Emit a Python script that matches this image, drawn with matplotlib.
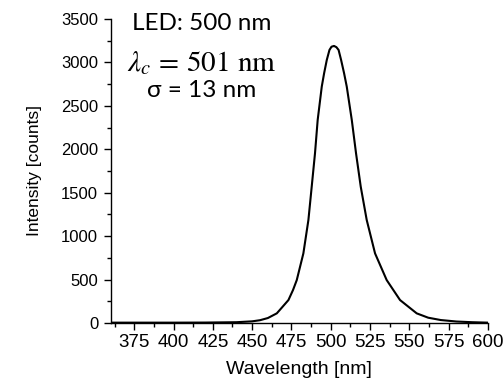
import numpy as np
import matplotlib.pyplot as plt
from matplotlib.ticker import MultipleLocator

# spectrum
wavelength = [360, 380, 400, 420, 440, 450, 455, 460, 465.7, 469, 473.1, 476, 478.4,
              482.6, 485.8, 487.9, 490.0, 491.7, 494.3, 495.8, 497.5, 499.2, 500.5,
              502.1, 503.6, 505.0, 506.6, 508.5, 510.2, 513.4, 516.1, 519.1, 522.9,
              528.2, 535.6, 544.1, 554.7, 562, 570, 580, 590, 600]
intensity = [5, 5, 5, 6, 10, 20, 33, 58, 112, 180, 265, 380, 495,
             802, 1186, 1569, 1954, 2337, 2721, 2875, 3028, 3143, 3180,
             3189, 3175, 3143, 3028, 2875, 2721, 2337, 1954, 1569, 1186,
             802, 495, 265, 112, 62, 35, 18, 10, 5]

xticks = [375, 400, 425, 450, 475, 500, 525, 550, 575, 600]
yticks = [0, 500, 1000, 1500, 2000, 2500, 3000, 3500]

plt.rcParams['font.family'] = 'Liberation Sans'
plt.rcParams['mathtext.fontset'] = 'stix'

fig = plt.figure(figsize=(5.03, 3.86), dpi=100)
ax = fig.add_axes([0.220, 0.163, 0.750, 0.788])

ax.plot(wavelength, intensity, color='black', lw=1.5, solid_joinstyle='round')

ax.set_xlim(360, 600)
ax.set_ylim(0, 3500)
ax.set_xticks(xticks)
ax.set_yticks(yticks)
ax.xaxis.set_minor_locator(MultipleLocator(12.5))
ax.yaxis.set_minor_locator(MultipleLocator(250))
ax.tick_params(axis='x', which='major', labelsize=13.5, length=5, width=1, pad=3)
ax.tick_params(axis='y', which='major', labelsize=12, length=5, width=1, pad=4)
ax.tick_params(which='minor', length=3, width=1)

ax.spines['top'].set_visible(False)
ax.spines['right'].set_visible(False)
ax.spines['left'].set_linewidth(1)
ax.spines['bottom'].set_linewidth(1)

ax.set_xlabel('Wavelength [nm]', fontsize=14, labelpad=7)
ax.set_ylabel('Intensity [counts]', fontsize=12.5, labelpad=14)

ax.text(0.24, 0.985, 'LED: 500 nm', transform=ax.transAxes, ha='center', va='center',
        fontsize=17.5, family='Lato')
ax.text(0.24, 0.855, r'$\lambda_c\,=\,501\ \mathrm{nm}$', transform=ax.transAxes,
        ha='center', va='center', fontsize=21)
ax.text(0.24, 0.765, 'σ = 13 nm', transform=ax.transAxes, ha='center', va='center',
        fontsize=17.5, family='Lato')

fig.savefig('out.png', dpi=100)
